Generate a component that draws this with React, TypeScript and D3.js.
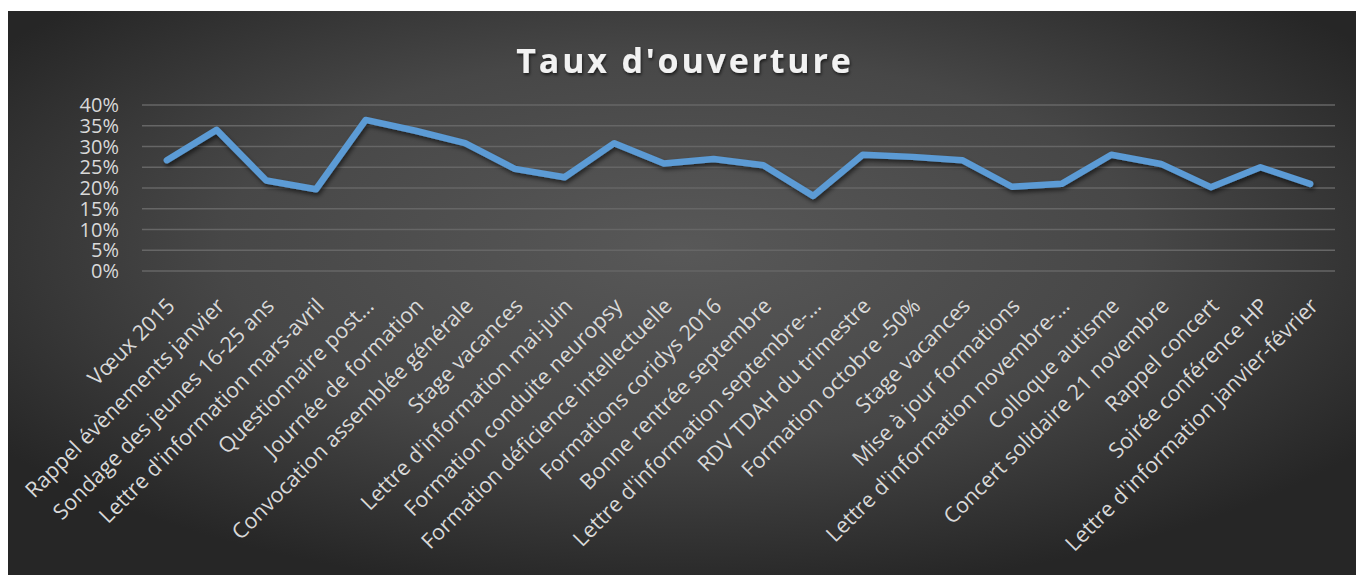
import React from "react";
import * as d3 from "d3";

const TITLE = "Taux d'ouverture";

const categories: string[] = [
  "Vœux 2015",
  "Rappel évènements janvier",
  "Sondage des jeunes 16-25 ans",
  "Lettre d'information mars-avril",
  "Questionnaire post…",
  "Journée de formation",
  "Convocation assemblée générale",
  "Stage vacances",
  "Lettre d'information mai-juin",
  "Formation conduite neuropsy",
  "Formation déficience intellectuelle",
  "Formations coridys 2016",
  "Bonne rentrée septembre",
  "Lettre d'information septembre-…",
  "RDV TDAH du trimestre",
  "Formation octobre -50%",
  "Stage vacances ",
  "Mise à jour formations",
  "Lettre d'information novembre-…",
  "Colloque autisme",
  "Concert solidaire 21 novembre",
  "Rappel concert",
  "Soirée conférence HP",
  "Lettre d'information janvier-février",
];

const values: number[] = [
  0.267, 0.34, 0.218, 0.197, 0.364, 0.338, 0.308, 0.246, 0.226, 0.308, 0.259, 0.27,
  0.255, 0.181, 0.28, 0.275, 0.267, 0.203, 0.21, 0.28, 0.258, 0.202, 0.25, 0.21,
];

const yTicks: number[] = [0, 0.05, 0.1, 0.15, 0.2, 0.25, 0.3, 0.35, 0.4];

const W = 1356;
const H = 575;
const FONT = "'Open Sans', 'Noto Sans', sans-serif";

export default function App() {
  const x = d3.scaleBand<string>().domain(categories).range([142, 1335]).padding(0);
  const y = d3.scaleLinear().domain([0, 0.4]).range([271, 105]);
  const cx = (c: string) => (x(c) as number) + x.bandwidth() / 2;

  const line = d3
    .line<number>()
    .x((_, i) => cx(categories[i]))
    .y((d) => y(d));

  const pct = d3.format(".0%");

  return (
    <svg
      width={W}
      height={H}
      style={{ position: "absolute", left: 0, top: 0, display: "block" }}
    >
      <defs>
        <radialGradient id="bg" cx="50%" cy="42%" r="62%" fx="50%" fy="42%">
          <stop offset="0%" stopColor="#585858" />
          <stop offset="55%" stopColor="#474747" />
          <stop offset="100%" stopColor="#262626" />
        </radialGradient>
        <filter id="lineShadow" x="-5%" y="-20%" width="110%" height="160%">
          <feDropShadow dx="1.5" dy="3" stdDeviation="2" floodColor="#000" floodOpacity="0.55" />
        </filter>
        <filter id="titleShadow" x="-5%" y="-30%" width="110%" height="160%">
          <feDropShadow dx="1" dy="2" stdDeviation="1.5" floodColor="#000" floodOpacity="0.6" />
        </filter>
      </defs>
      <rect x={0} y={0} width={W} height={H} fill="#ffffff" />
      <rect x={8} y={11} width={W - 8} height={H - 11} fill="url(#bg)" />

      <text
        x={685}
        y={73}
        textAnchor="middle"
        fontFamily={FONT}
        fontWeight={700}
        fontSize={34}
        letterSpacing={2.8}
        fill="#f2f2f2"
        filter="url(#titleShadow)"
      >
        {TITLE}
      </text>

      <g>
        {yTicks.map((t) => (
          <line
            key={"g" + t}
            x1={142}
            x2={1335}
            y1={y(t)}
            y2={y(t)}
            stroke="#666666"
            strokeWidth={1.5}
          />
        ))}
        {yTicks.map((t) => (
          <text
            key={"t" + t}
            x={119}
            y={y(t)}
            dy="0.36em"
            textAnchor="end"
            fontFamily={FONT}
            fontSize={20}
            fill="#d9d9d9"
          >
            {pct(t)}
          </text>
        ))}
      </g>

      <path
        d={line(values) || ""}
        fill="none"
        stroke="#5b9bd5"
        strokeWidth={6.5}
        strokeLinejoin="round"
        strokeLinecap="round"
        filter="url(#lineShadow)"
      />

      <g>
        {categories.map((c) => (
          <text
            key={c}
            transform={`translate(${cx(c) + 4},${302}) rotate(-45)`}
            textAnchor="end"
            dy="0.35em"
            fontFamily={FONT}
            fontSize={21.5}
            fill="#d9d9d9"
          >
            {c}
          </text>
        ))}
      </g>
    </svg>
  );
}
